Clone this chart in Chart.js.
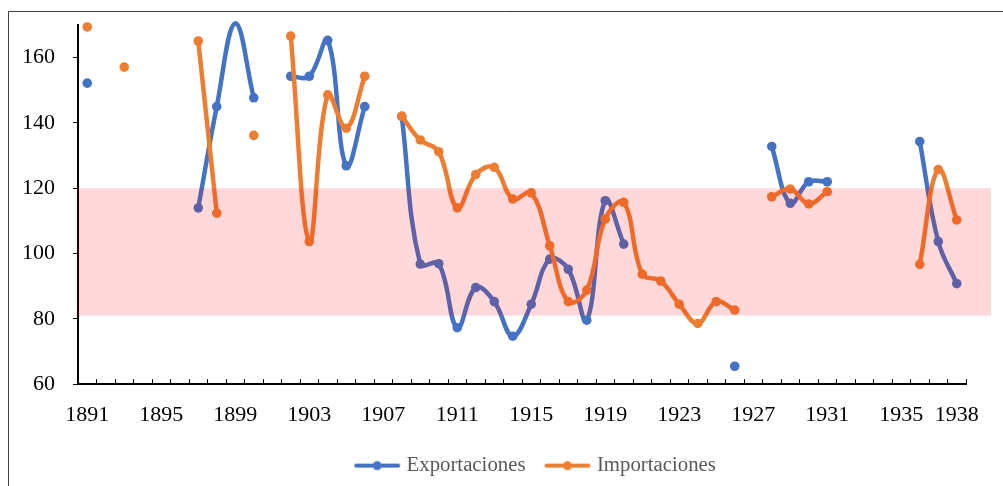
<!DOCTYPE html>
<html>
<head>
<meta charset="utf-8">
<title>Exportaciones e Importaciones</title>
<script src="https://cdn.jsdelivr.net/npm/chart.js@4.4.1/dist/chart.umd.min.js"></script>
<style>
    html, body { margin: 0; padding: 0; background: #fff; }
    #wrap { width: 1003px; height: 486px; position: relative; }
</style>
</head>
<body>
<div id="wrap"><canvas id="chartComercio"></canvas></div>
<script>
// years on the category axis
const years = [1891, 1892, 1893, 1894, 1895, 1896, 1897, 1898, 1899, 1900,
    1901, 1902, 1903, 1904, 1905, 1906, 1907, 1908, 1909, 1910,
    1911, 1912, 1913, 1914, 1915, 1916, 1917, 1918, 1919, 1920,
    1921, 1922, 1923, 1924, 1925, 1926, 1927, 1928, 1929, 1930,
    1931, 1932, 1933, 1934, 1935, 1936, 1937, 1938];

// only these years get a label
const shownYears = [1891, 1895, 1899, 1903, 1907, 1911, 1915, 1919, 1923, 1927, 1931, 1935, 1938];

const exportaciones = [152.2, null, null, null, null, null, 114, 145, 170.5, 147.7,
    null, 154.3, 154.3, 165.3, 126.9, 145, null, 142, 96.8, 96.9,
    77.3, 89.6, 85.3, 74.7, 84.5, 98.3, 95.2, 79.6, 116.2, 102.9,
    null, null, null, null, null, 65.5, null, 132.8, 115.4, 122,
    122, null, null, null, null, 134.3, 103.7, 90.8];

const importaciones = [169.4, null, 157.1, null, null, null, 165.1, 112.4, null, 136.2,
    null, 166.6, 103.7, 148.6, 138.4, 154.3, null, 142.1, 134.8, 131.2,
    114, 124.2, 126.4, 116.7, 118.6, 102.4, 85.3, 88.8, 110.6, 115.7,
    93.7, 91.6, 84.5, 78.6, 85.3, 82.7, null, 117.4, 119.8, 115.2,
    119, null, null, null, null, 96.7, 125.7, 110.3];

// shaded range
const bandLow = 81;
const bandHigh = 120;

const yMin = 60, yMax = 170;

const BLUE = '#4472C4';
const ORANGE = '#ED7D31';
const FONT = '"Liberation Serif", "Times New Roman", serif';

// legend marker: short line with a dot in the middle
function makeMarker(color) {
    const c = document.createElement('canvas');
    c.width = 48;
    c.height = 12;
    const g = c.getContext('2d');
    g.strokeStyle = color;
    g.lineWidth = 4;
    g.lineCap = 'round';
    g.beginPath();
    g.moveTo(3, 6);
    g.lineTo(45, 6);
    g.stroke();
    g.fillStyle = color;
    g.beginPath();
    g.arc(24, 6, 4.5, 0, Math.PI * 2);
    g.fill();
    return c;
}

const markers = [makeMarker(BLUE), makeMarker(ORANGE)];

// pink band drawn over the lines (semi transparent), plus the outer frame
const bandPlugin = {
    id: 'bandPlugin',
    afterLayout(chart) {
        // legend in the original sits a bit right of centre
        chart.legend.left += 54;
        chart.legend.right += 54;
    },
    afterDraw(chart) {
        const { ctx, chartArea, scales } = chart;
        const yTop = scales.y.getPixelForValue(bandHigh);
        const yBot = scales.y.getPixelForValue(bandLow);
        ctx.save();
        ctx.fillStyle = 'rgba(255, 0, 0, 0.15)';
        ctx.fillRect(chartArea.left - 1, yTop, 991 - chartArea.left + 1, yBot - yTop);

        ctx.strokeStyle = '#404040';
        ctx.lineWidth = 1;
        ctx.beginPath();
        ctx.moveTo(8.5, 486);
        ctx.lineTo(8.5, 11.5);
        ctx.lineTo(1003, 11.5);
        ctx.stroke();
        ctx.restore();
    }
};

const ctx = document.getElementById('chartComercio');

new Chart(ctx, {
    type: 'line',
    data: {
        labels: years,
        datasets: [{
            label: 'Exportaciones',
            data: exportaciones,
            borderColor: BLUE,
            backgroundColor: BLUE,
            borderWidth: 4.5,
            pointRadius: c => (c.raw > yMax ? 0 : 4.8),
            pointBorderWidth: 0,
            pointBackgroundColor: BLUE,
            tension: 0.4,
            borderCapStyle: 'round',
            borderJoinStyle: 'round',
            spanGaps: false,
            clip: 6,
            order: 1
        }, {
            label: 'Importaciones',
            data: importaciones,
            borderColor: ORANGE,
            backgroundColor: ORANGE,
            borderWidth: 4.5,
            pointRadius: 4.8,
            pointBorderWidth: 0,
            pointBackgroundColor: ORANGE,
            tension: 0.4,
            borderCapStyle: 'round',
            borderJoinStyle: 'round',
            spanGaps: false,
            clip: 6,
            order: 0
        }]
    },
    options: {
        responsive: true,
        maintainAspectRatio: false,
        animation: false,
        layout: {
            padding: { top: 25, right: 37, bottom: 0, left: 0 }
        },
        plugins: {
            tooltip: { enabled: false },
            legend: {
                display: true,
                position: 'bottom',
                labels: {
                    usePointStyle: true,
                    pointStyleWidth: 38,
                    padding: 23,
                    color: '#595959',
                    font: { family: FONT, size: 20.8 },
                    generateLabels: function (chart) {
                        return chart.data.datasets.map((ds, i) => ({
                            text: ds.label,
                            fillStyle: ds.borderColor,
                            strokeStyle: 'rgba(0,0,0,0)',
                            lineWidth: 0,
                            pointStyle: markers[i],
                            hidden: false,
                            datasetIndex: i,
                            fontColor: '#595959'
                        }));
                    }
                }
            }
        },
        scales: {
            x: {
                type: 'category',
                offset: true,
                border: { display: true, color: '#000', width: 2 },
                grid: {
                    display: true,
                    offset: true,
                    drawOnChartArea: false,
                    drawTicks: true,
                    tickLength: -5,
                    color: '#000',
                    lineWidth: 1
                },
                ticks: {
                    autoSkip: false,
                    maxRotation: 0,
                    minRotation: 0,
                    padding: 23,
                    color: '#000',
                    font: { family: FONT, size: 22 },
                    callback: function (value, index) {
                        const yr = years[index];
                        return shownYears.includes(yr) ? String(yr) : '';
                    }
                },
                afterFit: function (scale) {
                    scale.height = 48;
                }
            },
            y: {
                min: yMin,
                max: yMax,
                border: { display: true, color: '#000', width: 2 },
                grid: {
                    display: true,
                    drawOnChartArea: false,
                    drawTicks: true,
                    tickLength: 5,
                    color: '#000',
                    lineWidth: 1
                },
                ticks: {
                    stepSize: 20,
                    padding: 18,
                    color: '#000',
                    font: { family: FONT, size: 22 }
                },
                afterBuildTicks: function (scale) {
                    scale.ticks = scale.ticks.filter(t => t.value % 20 === 0);
                },
                afterFit: function (scale) {
                    scale.width = 78;
                    scale.paddingTop = 0;
                    scale.paddingBottom = 0;
                }
            }
        }
    },
    plugins: [bandPlugin]
});
</script>
</body>
</html>
